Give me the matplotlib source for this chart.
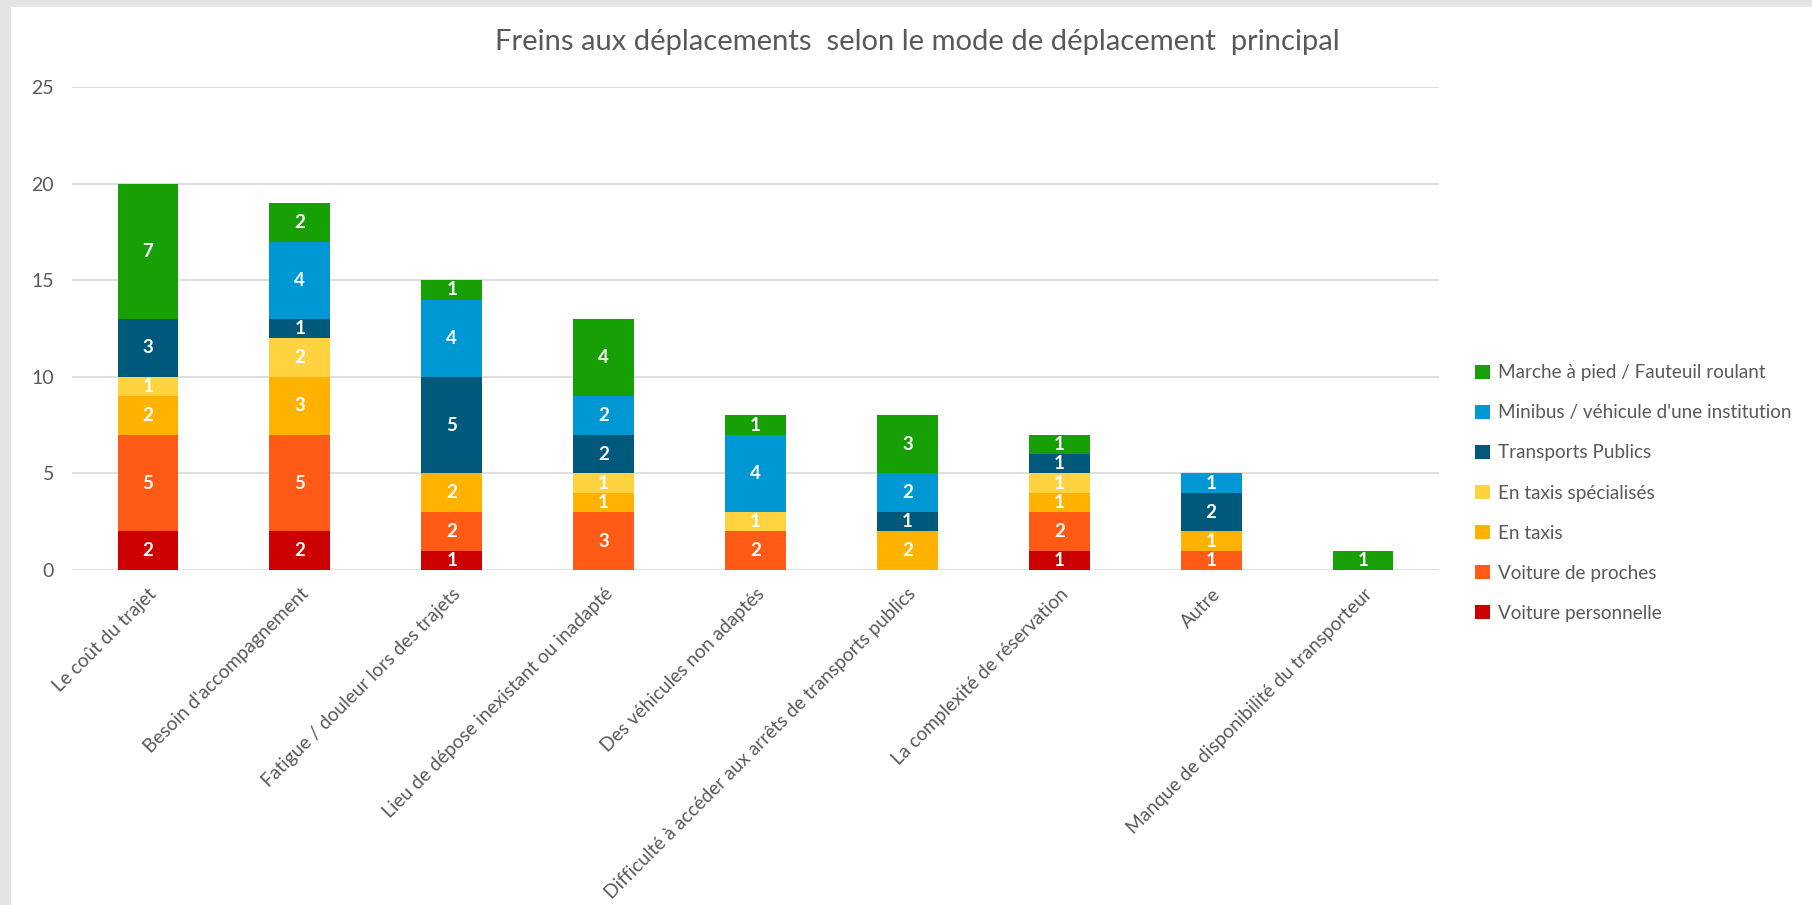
import numpy as np
import matplotlib
matplotlib.use('Agg')
import matplotlib.pyplot as plt
from matplotlib.patches import Rectangle, Patch

plt.rcParams['font.family'] = ['Lato', 'DejaVu Sans']

# categories (x axis)
categories = ["Le coût du trajet", "Besoin d'accompagnement", "Fatigue / douleur lors des trajets",
              "Lieu de dépose inexistant ou inadapté", "Des véhicules non adaptés",
              "Difficulté à accéder aux arrêts de transports publics", "La complexité de réservation",
              "Autre", "Manque de disponibilité du transporteur"]

# series, bottom to top
voiture_perso = [2, 2, 1, 0, 0, 0, 1, 0, 0]
voiture_proches = [5, 5, 2, 3, 2, 0, 2, 1, 0]
taxis = [2, 3, 2, 1, 0, 2, 1, 1, 0]
taxis_spe = [1, 2, 0, 1, 1, 0, 1, 0, 0]
transports_publics = [3, 1, 5, 2, 0, 1, 1, 2, 0]
minibus = [0, 4, 4, 2, 4, 2, 0, 1, 0]
marche = [7, 2, 1, 4, 1, 3, 1, 0, 1]

series_names = ["Voiture personnelle", "Voiture de proches", "En taxis", "En taxis spécialisés",
                "Transports Publics", "Minibus / véhicule d'une institution",
                "Marche à pied / Fauteuil roulant"]
series_vals = [voiture_perso, voiture_proches, taxis, taxis_spe, transports_publics, minibus, marche]
colors = ['#CC0000', '#FF5B17', '#FFB300', '#FFD33F', '#00587A', '#0098D4', '#17A005']

text_col = '#595959'

fig = plt.figure(figsize=(18.12, 9.05), dpi=100)
fig.patch.set_facecolor('#E4E4E4')
# white chart area (grey strip at left and top)
fig.patches.append(Rectangle((11 / 1812, 0), 1, 1 - 7 / 905, transform=fig.transFigure,
                             facecolor='white', edgecolor='none', zorder=-10))

ax = fig.add_axes([72 / 1812, 1 - 570 / 905, (1439 - 72) / 1812, (570 - 87) / 905])
ax.set_facecolor('none')

x = np.arange(len(categories))
bottom = np.zeros(len(categories))
for name, vals, col in zip(series_names, series_vals, colors):
    vals = np.array(vals, dtype=float)
    ax.bar(x, vals, 0.4, bottom=bottom, color=col, label=name, zorder=3)
    for xi, v, b in zip(x, vals, bottom):
        if v > 0:
            ax.text(xi, b + v / 2, str(int(v)), ha='center', va='center', color='white',
                    fontsize=13.5, fontweight='bold', zorder=4)
    bottom += vals

ax.set_xlim(-0.5, len(categories) - 0.5)
ax.set_ylim(0, 25)
ax.set_yticks([0, 5, 10, 15, 20, 25])
ax.yaxis.grid(True, color='#D9D9D9', linewidth=1.2, zorder=0)
ax.tick_params(axis='both', length=0, labelsize=14, labelcolor=text_col)
ax.tick_params(axis='y', pad=13)
for s in ax.spines.values():
    s.set_visible(False)

ax.set_xticks(x)
ax.set_xticklabels(categories, rotation=45, ha='right', rotation_mode='anchor', fontsize=13.8)
ax.tick_params(axis='x', pad=11)

fig.text(0.506, 1 - 42 / 905, "Freins aux déplacements  selon le mode de déplacement  principal",
         ha='center', va='center', fontsize=21, color=text_col)

handles = [Patch(facecolor=c, edgecolor='none') for c in colors][::-1]
fig.legend(handles, series_names[::-1], loc='center left', bbox_to_anchor=(1458 / 1812, 1 - 493 / 905),
           frameon=False, fontsize=13.6, labelcolor=text_col, handlelength=0.8, handleheight=0.8,
           handletextpad=0.4, labelspacing=1.22)

fig.savefig('out.png', dpi=100, facecolor=fig.get_facecolor())
